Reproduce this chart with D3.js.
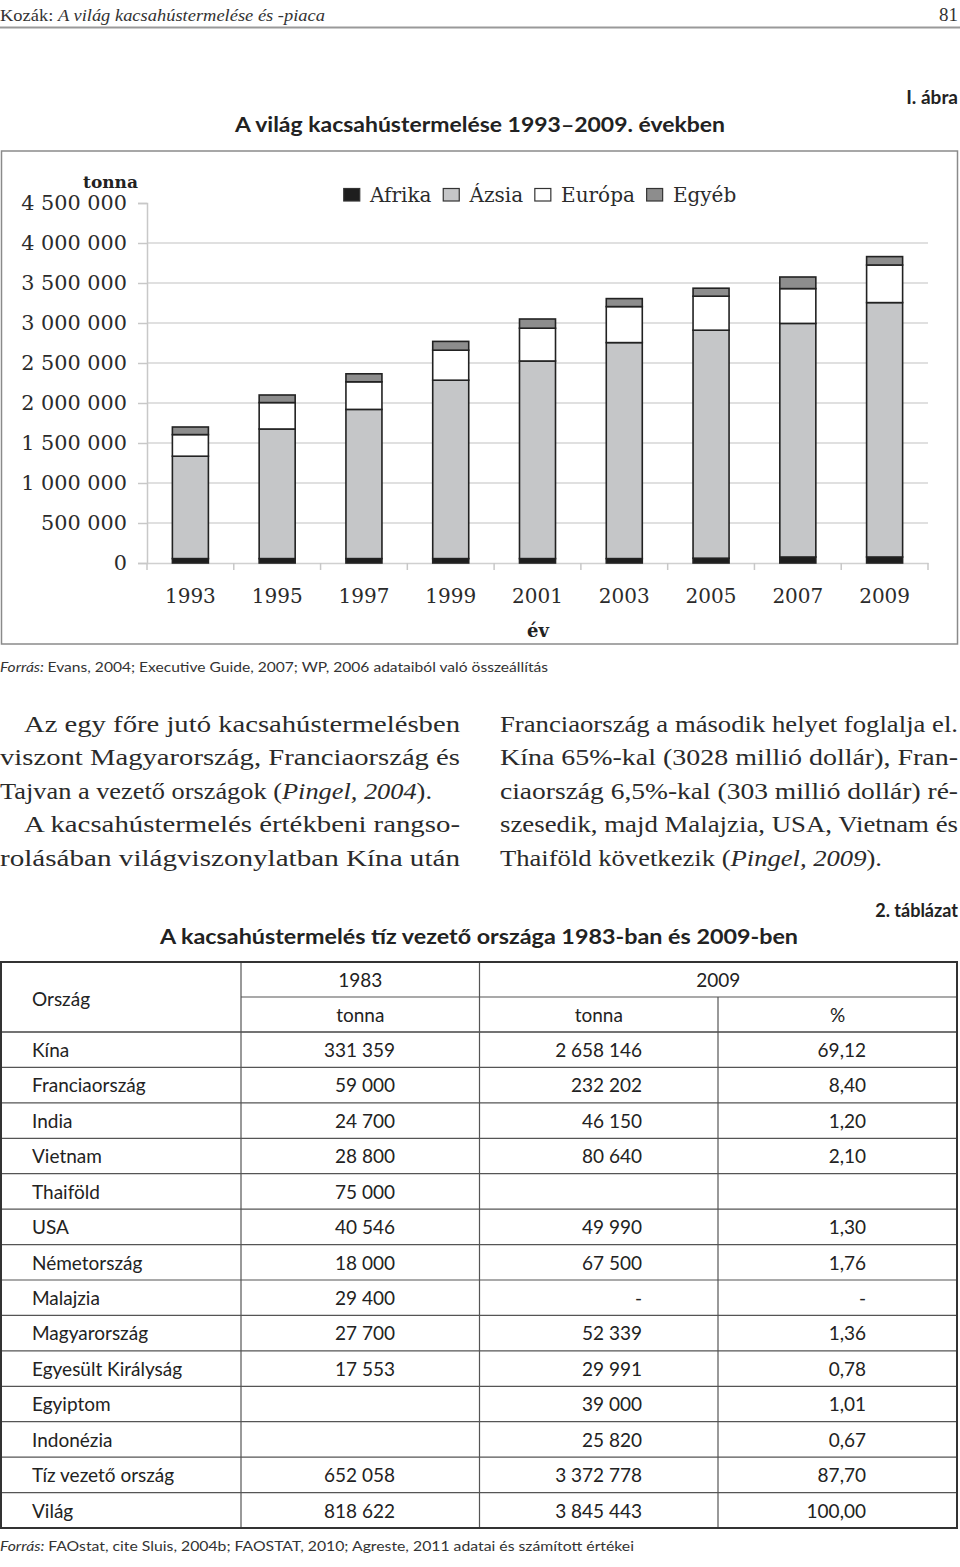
<!DOCTYPE html>
<html><head><meta charset="utf-8">
<script src="https://cdn.jsdelivr.net/npm/d3@7/dist/d3.min.js"></script>
<style>
html,body{margin:0;padding:0;background:#fff;}
svg{display:block;}
</style></head>
<body>
<svg id="page" width="960" height="1567"></svg>
<script>
// ---------- chart data ----------
const years = ["1993","1995","1997","1999","2001","2003","2005","2007","2009"];
const afrika = [55000, 55000, 55000, 55000, 55000, 55000, 60000, 75000, 75000];
const azsia  = [1280000, 1620000, 1865000, 2230000, 2470000, 2700000, 2850000, 2920000, 3180000];
const europa = [270000, 330000, 345000, 375000, 410000, 450000, 425000, 435000, 470000];
const egyeb  = [95000, 95000, 100000, 110000, 115000, 100000, 100000, 145000, 105000];
const seriesNames = ["Afrika","Ázsia","Európa","Egyéb"];
const yTicks = [0, 500000, 1000000, 1500000, 2000000, 2500000, 3000000, 3500000, 4000000, 4500000];

// ---------- table data ----------
const countries = ["Kína","Franciaország","India","Vietnam","Thaiföld","USA","Németország","Malajzia","Magyarország","Egyesült Királyság","Egyiptom","Indonézia","Tíz vezető ország","Világ"];
const tonna1983 = ["331 359","59 000","24 700","28 800","75 000","40 546","18 000","29 400","27 700","17 553","","","652 058","818 622"];
const tonna2009 = ["2 658 146","232 202","46 150","80 640","","49 990","67 500","-","52 339","29 991","39 000","25 820","3 372 778","3 845 443"];
const pct2009   = ["69,12","8,40","1,20","2,10","","1,30","1,76","-","1,36","0,78","1,01","0,67","87,70","100,00"];

const svg = d3.select("#page");
const SERIF = "'Liberation Serif', 'Times New Roman', serif";
const CHART = "'DejaVu Serif', serif";
const SANS = "Lato, 'Open Sans', sans-serif";

// ---------- page header ----------
const hdr = svg.append("text").attr("x", 0).attr("y", 21)
  .attr("font-family", SERIF).attr("font-size", 17).attr("fill", "#333")
  .attr("textLength", 325).attr("lengthAdjust", "spacingAndGlyphs");
hdr.append("tspan").text("Kozák: ");
hdr.append("tspan").attr("font-style", "italic").text("A világ kacsahústermelése és -piaca");
svg.append("text").attr("x", 958).attr("y", 21).attr("text-anchor", "end")
  .attr("font-family", SERIF).attr("font-size", 19).attr("fill", "#333").text("81");
svg.append("line").attr("x1", 0).attr("x2", 960).attr("y1", 27.5).attr("y2", 27.5)
  .attr("stroke", "#999").attr("stroke-width", 2);

svg.append("text").attr("x", 958).attr("y", 104).attr("text-anchor", "end")
  .attr("font-family", SANS).attr("font-weight", "bold").attr("font-size", 19).attr("fill", "#222")
  .text("I. ábra");
svg.append("text").attr("x", 235).attr("y", 132)
  .attr("font-family", SANS).attr("font-weight", "bold").attr("font-size", 20).attr("fill", "#222")
  .attr("textLength", 490).attr("lengthAdjust", "spacingAndGlyphs")
  .text("A világ kacsahústermelése 1993–2009. években");

// ---------- chart frame ----------
svg.append("rect").attr("x", 1.5).attr("y", 151).attr("width", 956).attr("height", 493)
  .attr("fill", "#fff").attr("stroke", "#8a8a8a").attr("stroke-width", 1.5);

const x = d3.scaleBand().domain(years).range([147, 928]).paddingInner(0.585).paddingOuter(0.2925);
const y = d3.scaleLinear().domain([0, 4500000]).range([563, 203]);

// gridlines
svg.append("g").selectAll("line").data(yTicks.filter(d => d > 0 && d < 4500000)).join("line")
  .attr("x1", 147).attr("x2", 928).attr("y1", d => y(d)).attr("y2", d => y(d))
  .attr("stroke", "#d6d6d6").attr("stroke-width", 1.5);

// y axis
const fmt = d => d3.format(",")(d).replace(/,/g, " ");
const yAxis = svg.append("g").attr("transform", "translate(147,0)")
  .call(d3.axisLeft(y).tickValues(yTicks).tickFormat(fmt).tickSize(9).tickPadding(11));
yAxis.select(".domain").attr("stroke", "#c8c8c8").attr("stroke-width", 1.5);
yAxis.selectAll(".tick line").attr("stroke", "#c8c8c8").attr("stroke-width", 1.5);
yAxis.selectAll(".tick text").attr("font-family", CHART).attr("font-size", 20.8).attr("fill", "#2b2b2b");

// x axis
const xAxis = svg.append("g").attr("transform", "translate(0,563)")
  .call(d3.axisBottom(x).tickSize(0).tickPadding(26));
xAxis.select(".domain").attr("stroke", "#d0d0d0").attr("stroke-width", 1.5);
xAxis.selectAll(".tick text").attr("font-family", CHART).attr("font-size", 20).attr("fill", "#2b2b2b");
const bounds = d3.range(years.length + 1).map(i => x.range()[0] + i * x.step());
svg.append("g").selectAll("line").data(bounds).join("line")
  .attr("x1", d => d).attr("x2", d => d).attr("y1", 563).attr("y2", 570)
  .attr("stroke", "#c8c8c8").attr("stroke-width", 1.5);

// stacked bars
const rows = years.map((yr, i) => ({year: yr, "Afrika": afrika[i], "Ázsia": azsia[i], "Európa": europa[i], "Egyéb": egyeb[i]}));
const stack = d3.stack().keys(seriesNames)(rows);
const color = d3.scaleOrdinal().domain(seriesNames).range(["#1e1e1e", "#c5c6c8", "#ffffff", "#8d8d8d"]);
svg.append("g").selectAll("g").data(stack).join("g")
  .attr("fill", d => color(d.key))
  .selectAll("rect").data(d => d).join("rect")
  .attr("x", d => x(d.data.year)).attr("width", x.bandwidth())
  .attr("y", d => y(d[1])).attr("height", d => y(d[0]) - y(d[1]))
  .attr("stroke", "#222").attr("stroke-width", 1.6);

// axis titles
svg.append("text").attr("x", 138).attr("y", 188).attr("text-anchor", "end")
  .attr("font-family", CHART).attr("font-weight", "bold").attr("font-size", 17).attr("fill", "#222").text("tonna");
svg.append("text").attr("x", 538).attr("y", 637).attr("text-anchor", "middle")
  .attr("font-family", CHART).attr("font-weight", "bold").attr("font-size", 18).attr("fill", "#222").text("év");

// legend
const leg = svg.append("g");
let lx = 343;
seriesNames.forEach(name => {
  leg.append("rect").attr("x", lx + 0.75).attr("y", 188.5).attr("width", 16).attr("height", 12.5)
    .attr("fill", color(name)).attr("stroke", "#333").attr("stroke-width", 1.2);
  const t = leg.append("text").attr("x", lx + 27).attr("y", 202)
    .attr("font-family", CHART).attr("font-size", 20).attr("fill", "#2b2b2b").text(name);
  lx = lx + 27 + t.node().getComputedTextLength() + 11;
});

// chart source
const src1 = svg.append("text").attr("x", 0).attr("y", 672)
  .attr("font-family", SANS).attr("font-size", 14).attr("fill", "#333")
  .attr("textLength", 548).attr("lengthAdjust", "spacingAndGlyphs");
src1.append("tspan").attr("font-style", "italic").text("Forrás: ");
src1.append("tspan").text("Evans, 2004; Executive Guide, 2007; WP, 2006 adataiból való összeállítás");

// ---------- body text ----------
const bodyLines = [
  {x: 24, w: 436, y: 732, segs: [["Az egy főre jutó kacsahústermelésben"]]},
  {x: 0, w: 460, y: 765, segs: [["viszont Magyarország, Franciaország és"]]},
  {x: 0, w: 432, y: 799, segs: [["Tajvan a vezető országok ("], ["Pingel, 2004", 1], [")."]]},
  {x: 24, w: 436, y: 832, segs: [["A kacsahústermelés értékbeni rangso-"]]},
  {x: 0, w: 460, y: 866, segs: [["rolásában világviszonylatban Kína után"]]},
  {x: 500, w: 458, y: 732, segs: [["Franciaország a második helyet foglalja el."]]},
  {x: 500, w: 458, y: 765, segs: [["Kína 65%-kal (3028 millió dollár), Fran-"]]},
  {x: 500, w: 458, y: 799, segs: [["ciaország 6,5%-kal (303 millió dollár) ré-"]]},
  {x: 500, w: 458, y: 832, segs: [["szesedik, majd Malajzia, USA, Vietnam és"]]},
  {x: 500, w: 382, y: 866, segs: [["Thaiföld következik ("], ["Pingel, 2009", 1], [")."]]}
];
bodyLines.forEach(l => {
  const t = svg.append("text").attr("x", l.x).attr("y", l.y)
    .attr("font-family", SERIF).attr("font-size", 23).attr("fill", "#2a2a2a")
    .attr("textLength", l.w).attr("lengthAdjust", "spacingAndGlyphs");
  l.segs.forEach(s => t.append("tspan").attr("font-style", s[1] ? "italic" : "normal").text(s[0]));
});

// ---------- table ----------
svg.append("text").attr("x", 958).attr("y", 917).attr("text-anchor", "end")
  .attr("font-family", SANS).attr("font-weight", "bold").attr("font-size", 18).attr("fill", "#222")
  .text("2. táblázat");
svg.append("text").attr("x", 160).attr("y", 944)
  .attr("font-family", SANS).attr("font-weight", "bold").attr("font-size", 20).attr("fill", "#222")
  .attr("textLength", 638).attr("lengthAdjust", "spacingAndGlyphs")
  .text("A kacsahústermelés tíz vezető országa 1983-ban és 2009-ben");

const T = {top: 962, hdrMid: 997, hdrBot: 1032, bottom: 1528, left: 1, c1: 241, c2: 479.5, c3: 718, right: 957};
const rowH = (T.bottom - T.hdrBot) / countries.length;
const tg = svg.append("g");
const line = (x1, y1, x2, y2, col, w) => tg.append("line").attr("x1", x1).attr("y1", y1).attr("x2", x2).attr("y2", y2)
  .attr("stroke", col).attr("stroke-width", w);

countries.forEach((c, i) => { if (i > 0) line(T.left, T.hdrBot + i * rowH, T.right, T.hdrBot + i * rowH, "#555", 1.2); });
line(T.left, T.hdrBot, T.right, T.hdrBot, "#444", 1.4);
line(T.c1, T.hdrMid, T.right, T.hdrMid, "#555", 1.2);
line(T.c1, T.top, T.c1, T.bottom, "#555", 1.2);
line(T.c2, T.top, T.c2, T.bottom, "#555", 1.2);
line(T.c3, T.hdrMid, T.c3, T.bottom, "#555", 1.2);
tg.append("rect").attr("x", T.left).attr("y", T.top).attr("width", T.right - T.left).attr("height", T.bottom - T.top)
  .attr("fill", "none").attr("stroke", "#333").attr("stroke-width", 2);

const cellText = (x, y, txt, anchor) => tg.append("text").attr("x", x).attr("y", y).attr("text-anchor", anchor)
  .attr("font-family", SANS).attr("font-size", 19).attr("fill", "#222").text(txt);
cellText(32, 1006, "Ország", "start");
cellText((T.c1 + T.c2) / 2, 987, "1983", "middle");
cellText((T.c2 + T.right) / 2, 987, "2009", "middle");
cellText((T.c1 + T.c2) / 2, 1022, "tonna", "middle");
cellText((T.c2 + T.c3) / 2, 1022, "tonna", "middle");
cellText((T.c3 + T.right) / 2, 1022, "%", "middle");

countries.forEach((c, i) => {
  const by = T.hdrBot + i * rowH + 25;
  cellText(32, by, c, "start");
  if (tonna1983[i]) cellText(395, by, tonna1983[i], "end");
  if (tonna2009[i]) cellText(642, by, tonna2009[i], "end");
  if (pct2009[i]) cellText(866, by, pct2009[i], "end");
});

// table source
const src2 = svg.append("text").attr("x", 0).attr("y", 1551)
  .attr("font-family", SANS).attr("font-size", 14).attr("fill", "#333")
  .attr("textLength", 634).attr("lengthAdjust", "spacingAndGlyphs");
src2.append("tspan").attr("font-style", "italic").text("Forrás: ");
src2.append("tspan").text("FAOstat, cite Sluis, 2004b; FAOSTAT, 2010; Agreste, 2011 adatai és számított értékei");
</script>
</body></html>
